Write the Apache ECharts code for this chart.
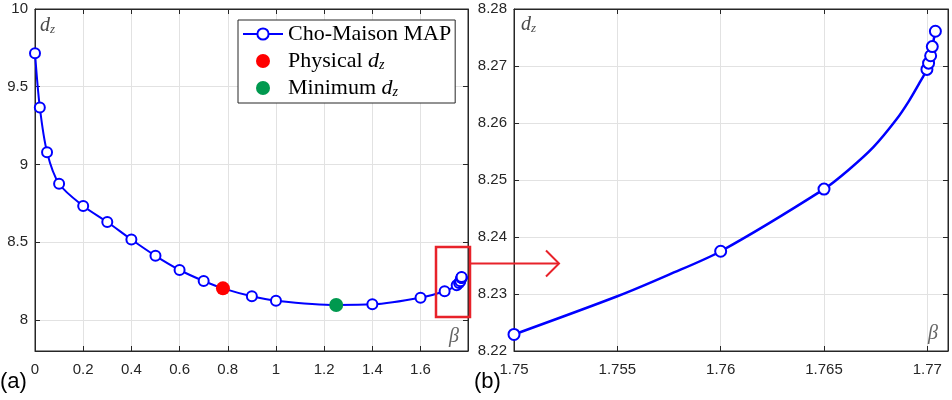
<!DOCTYPE html>
<html>
<head>
<meta charset="utf-8">
<script src="https://cdn.jsdelivr.net/npm/echarts@6/dist/echarts.min.js"></script>
<style>html,body{margin:0;padding:0;background:#fff}#c{width:952px;height:400px}</style>
</head>
<body>
<div id="c"></div>
<script>
// ---- data ----
const leftBeta = [0, 0.02, 0.05, 0.1, 0.2, 0.3, 0.4, 0.5, 0.6, 0.7, 0.9, 1.0, 1.4, 1.6, 1.7, 1.75, 1.76, 1.765, 1.76998, 1.77006, 1.77016, 1.77024, 1.77039];
const leftDz = [9.716, 9.367, 9.079, 8.876, 8.733, 8.630, 8.517, 8.412, 8.321, 8.250, 8.152, 8.124, 8.100, 8.143, 8.184, 8.2229, 8.2375, 8.2484, 8.2694, 8.2705, 8.2718, 8.2734, 8.2761];
const physicalBeta = [0.78];
const physicalDz = [8.203];
const minimumBeta = [1.25];
const minimumDz = [8.096];
const rightBeta = [1.75, 1.76, 1.765, 1.76998, 1.77006, 1.77016, 1.77024, 1.77039];
const rightDz = [8.2229, 8.2375, 8.2484, 8.2694, 8.2705, 8.2718, 8.2734, 8.2761];
const rightCurveBeta = [1.755, 1.7575, 1.7662, 1.7674, 1.7685, 1.7691, 1.7696];
const rightCurveDz = [8.2296, 8.2334, 8.2518, 8.2558, 8.2606, 8.2638, 8.2669];

function mergeCurve(mx, my, cx, cy) {
  const pts = [];
  mx.forEach((x, i) => pts.push({ value: [x, my[i]], symbol: 'emptyCircle' }));
  cx.forEach((x, i) => pts.push({ value: [x, cy[i]], symbol: 'none' }));
  pts.sort((a, b) => a.value[0] - b.value[0]);
  return pts;
}

const AX = '#262626', GRID = '#e2e2e2', BLUE = '#0000ff';
const labelFont = { color: AX, fontSize: 15, fontFamily: 'Liberation Sans, Arial, sans-serif' };

function xMain(gi, min, max, interval, fmt) {
  return {
    gridIndex: gi, type: 'value', min, max, interval, position: 'bottom',
    axisLine: { show: true, onZero: false, lineStyle: { color: AX, width: 1 } },
    axisTick: { show: true, inside: true, length: 5, lineStyle: { color: AX } },
    axisLabel: Object.assign({ showMaxLabel: false, margin: 11, formatter: fmt }, labelFont),
    splitLine: { show: true, lineStyle: { color: GRID, width: 1 } }
  };
}
function xTop(gi, min, max, interval) {
  return {
    gridIndex: gi, type: 'value', min, max, interval, position: 'top',
    axisLine: { show: true, onZero: false, lineStyle: { color: AX, width: 1 } },
    axisTick: { show: true, inside: true, length: 5, lineStyle: { color: AX } },
    axisLabel: { show: false }, splitLine: { show: false }
  };
}
function yMain(gi, min, max, extra) {
  return Object.assign({
    gridIndex: gi, type: 'value', min, max, position: 'left',
    axisLine: { show: true, onZero: false, lineStyle: { color: AX, width: 1 } },
    axisTick: { show: true, inside: true, length: 5, lineStyle: { color: AX } },
    splitLine: { show: true, lineStyle: { color: GRID, width: 1 } }
  }, extra);
}
function yRight(gi, min, max, extra) {
  return Object.assign({
    gridIndex: gi, type: 'value', min, max, position: 'right',
    axisLine: { show: true, onZero: false, lineStyle: { color: AX, width: 1 } },
    axisTick: { show: true, inside: true, length: 5, lineStyle: { color: AX } },
    axisLabel: { show: false }, splitLine: { show: false }
  }, extra);
}

const chart = echarts.init(document.getElementById('c'), null, { renderer: 'canvas' });

const richSub = {
  n: { fontFamily: 'Liberation Serif, serif', fontSize: 22, lineHeight: 22, color: '#000' },
  d: { fontFamily: 'Liberation Serif, serif', fontSize: 22, fontStyle: 'italic', lineHeight: 22, color: '#000' },
  z: { fontFamily: 'Liberation Serif, serif', fontSize: 14, fontStyle: 'italic', lineHeight: 12, verticalAlign: 'bottom', color: '#000' }
};
const grayRich = {
  d: { fontFamily: 'Liberation Serif, serif', fontSize: 20, fontStyle: 'italic', lineHeight: 20, fill: '#4a4a4a' },
  z: { fontFamily: 'Liberation Serif, serif', fontSize: 13, fontStyle: 'italic', lineHeight: 11, verticalAlign: 'bottom', fill: '#4a4a4a' }
};

const option = {
  animation: false,
  backgroundColor: '#fff',
  grid: [
    { left: 35, top: 9, width: 433, height: 342, show: true, borderColor: AX, borderWidth: 1, backgroundColor: 'transparent' },
    { left: 514, top: 9, width: 434, height: 342, show: true, borderColor: AX, borderWidth: 1, backgroundColor: 'transparent' }
  ],
  xAxis: [
    xMain(0, 0, 1.797, 0.2, v => String(+v.toFixed(2))),
    xTop(0, 0, 1.797, 0.2),
    xMain(1, 1.75, 1.771, 0.005, v => String(+v.toFixed(3))),
    xTop(1, 1.75, 1.771, 0.005)
  ],
  yAxis: [
    yMain(0, 7.8, 10, { splitNumber: 5, axisLabel: Object.assign({ showMinLabel: false, margin: 7, formatter: v => String(+v.toFixed(2)) }, labelFont) }),
    yRight(0, 7.8, 10, { splitNumber: 5 }),
    yMain(1, 8.22, 8.28, { interval: 0.01, axisLabel: Object.assign({ margin: 7, formatter: v => v.toFixed(2) }, labelFont) }),
    yRight(1, 8.22, 8.28, { interval: 0.01 })
  ],
  legend: {
    data: ['Cho-Maison MAP', 'Physical', 'Minimum'],
    orient: 'vertical', left: 238, top: 20,
    padding: [3, 4, 4, 4], itemGap: 5, itemWidth: 40, itemHeight: 14,
    backgroundColor: '#fff', borderColor: AX, borderWidth: 1, borderRadius: 0,
    selectedMode: false,
    formatter: name => name === 'Cho-Maison MAP' ? '{n|Cho-Maison MAP}' : '{n|' + name + ' }{d|d}{z|z}',
    textStyle: { fontFamily: 'Liberation Serif, serif', fontSize: 22, color: '#000', rich: richSub }
  },
  series: [
    {
      name: 'Cho-Maison MAP', type: 'line', xAxisIndex: 0, yAxisIndex: 0,
      data: mergeCurve(leftBeta, leftDz, physicalBeta.concat(minimumBeta), physicalDz.concat(minimumDz)),
      smooth: 0.3, symbol: 'emptyCircle', symbolSize: 10, showAllSymbol: true,
      lineStyle: { color: BLUE, width: 2 }, itemStyle: { color: BLUE, borderWidth: 2.5 }, z: 3
    },
    {
      name: 'Physical', type: 'scatter', xAxisIndex: 0, yAxisIndex: 0,
      data: physicalBeta.map((x, i) => [x, physicalDz[i]]),
      symbol: 'circle', symbolSize: 14, itemStyle: { color: '#ff0000', opacity: 1 }, z: 5
    },
    {
      name: 'Minimum', type: 'scatter', xAxisIndex: 0, yAxisIndex: 0,
      data: minimumBeta.map((x, i) => [x, minimumDz[i]]),
      symbol: 'circle', symbolSize: 14, itemStyle: { color: '#00994f', opacity: 1 }, z: 5
    },
    {
      name: 'zoom', type: 'line', xAxisIndex: 2, yAxisIndex: 2,
      data: mergeCurve(rightBeta, rightDz, rightCurveBeta, rightCurveDz),
      smooth: 0.3, symbol: 'emptyCircle', symbolSize: 11, showAllSymbol: true,
      lineStyle: { color: BLUE, width: 2.5 }, itemStyle: { color: BLUE, borderWidth: 2.5 }, z: 3
    }
  ],
  graphic: [
    { type: 'text', left: 40, top: 16, z: 10, style: { text: '{d|d}{z|z}', rich: grayRich } },
    { type: 'text', left: 521, top: 15, z: 10, style: { text: '{d|d}{z|z}', rich: grayRich } },
    { type: 'text', left: 449, top: 327, z: 10, style: { text: 'β', fill: '#666', font: 'italic 20px "Liberation Serif", serif' } },
    { type: 'text', left: 928, top: 324, z: 10, style: { text: 'β', fill: '#666', font: 'italic 20px "Liberation Serif", serif' } },
    { type: 'text', left: 0, top: 371, z: 10, style: { text: '(a)', fill: '#000', font: '22px "Liberation Sans", Arial, sans-serif' } },
    { type: 'text', left: 474, top: 371, z: 10, style: { text: '(b)', fill: '#000', font: '22px "Liberation Sans", Arial, sans-serif' } },
    { type: 'rect', z: 20, shape: { x: 436, y: 247, width: 34, height: 70 }, style: { fill: 'none', stroke: '#e8222a', lineWidth: 2.5 } },
    { type: 'line', z: 20, shape: { x1: 471, y1: 263.5, x2: 559, y2: 263.5 }, style: { stroke: '#e8222a', lineWidth: 2 } },
    { type: 'polyline', z: 20, shape: { points: [[546, 250.5], [559, 263.5], [546, 276.5]] }, style: { fill: 'none', stroke: '#e8222a', lineWidth: 2 } }
  ]
};
chart.setOption(option);
</script>
</body>
</html>
